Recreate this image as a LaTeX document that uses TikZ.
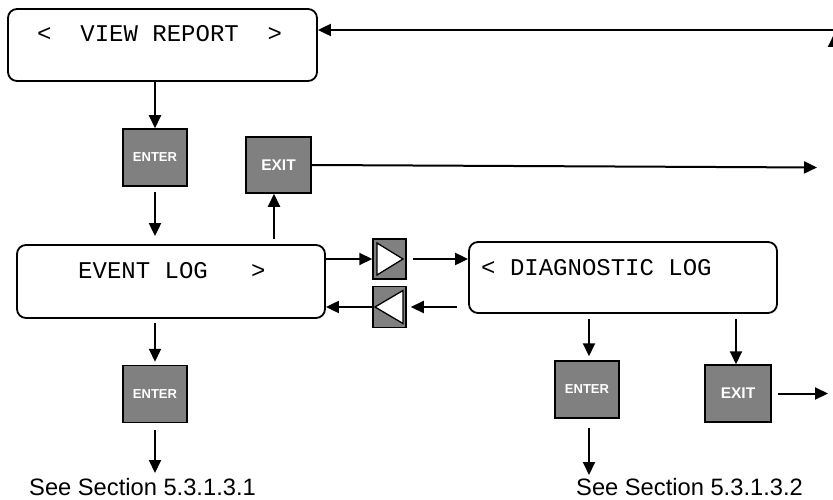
\documentclass[tikz,border=0pt]{standalone}
\usepackage{fontspec}
\setmainfont{Liberation Sans}
\newfontfamily\lcdfont{Liberation Mono}
\usetikzlibrary{arrows.meta,calc}
\definecolor{keygray}{RGB}{128,128,128}
\begin{document}
\begin{tikzpicture}[x=1pt,y=-1pt,
  lcd/.style={draw,line width=1.8pt,rounded corners=9pt,inner sep=0pt,fill=white},
  lcdtext/.style={inner sep=0pt,anchor=base west,font=\lcdfont\fontsize{24}{28}\selectfont},
  keybox/.style={draw,line width=1.5pt,fill=keygray,inner sep=0pt,text=white},
  enterkey/.style={keybox,minimum width=64pt,minimum height=57pt,font=\bfseries\fontsize{13}{15}\selectfont},
  exitkey/.style={keybox,minimum width=65pt,minimum height=56pt,font=\bfseries\fontsize{15.5}{17}\selectfont},
  navkey/.style={keybox,minimum width=33pt,minimum height=40pt},
  tri/.style={draw,line width=1.3pt,fill=white},
  seetext/.style={inner sep=0pt,anchor=base west,font=\fontsize{23.7}{28}\selectfont},
  arr/.style={line width=2pt,-{Triangle[length=13pt,width=12pt]}}
]
\useasboundingbox (0,0) rectangle (833,500);

% displays
\node[lcd,minimum width=309pt,minimum height=72pt] (vr) at (162.5,45) {};
\node[lcdtext] (vrt) at (37,42) {<~~VIEW REPORT~~>};
\node[lcd,minimum width=308pt,minimum height=73pt] (ev) at (171,281.5) {};
\node[lcdtext] (evt) at (78,278) {EVENT LOG~~~>};
\node[lcd,minimum width=308pt,minimum height=71pt] (dg) at (623,277.5) {};
\node[lcdtext] (dgt) at (481,275) {<~DIAGNOSTIC LOG};

% keys
\node[enterkey] (enter1) at (155,157.5) {ENTER};
\node[exitkey] (exit1) at (278.5,165) {EXIT};
\node[enterkey] (enter3) at (155,394) {ENTER};
\node[enterkey] (enter2) at (587,389.5) {ENTER};
\node[exitkey,minimum width=66pt,minimum height=57pt] (exit2) at (738,393.5) {EXIT};
\node[navkey] (rbtn) at (389.5,259) {};
\node[navkey,minimum height=41pt] (lbtn) at (389.5,307) {};
\draw[tri] (377,243) -- (377,275) -- (403,259) -- cycle;
\draw[tri] (403,290.5) -- (403,323.5) -- (375,307) -- cycle;

% texts
\node[seetext] (see1) at (29,495) {See Section 5.3.1.3.1};
\node[seetext] (see2) at (576,495) {See Section 5.3.1.3.2};

% free ends
\coordinate (topin) at (836,30);
\coordinate (exit1out) at (817,167.5);
\coordinate (exit2out) at (828,393.5);
\coordinate (upend) at (834,34);

% connectors
\draw[arr] (topin) -- (topin -| vr.east);
\draw[arr] (834,48) -- (upend);
\draw[arr] (vr.south -| enter1) -- (enter1.north);
\draw[arr,shorten <=5pt,shorten >=8pt] (enter1.south) -- (ev.north -| enter1);
\draw[arr,shorten <=5pt] ([xshift=-4.5pt]ev.north -| exit1) -- ([xshift=-4.5pt]exit1.south);
\draw[arr] (exit1.east) -- (exit1out);
\draw[arr] (ev.east |- rbtn) -- (rbtn.west);
\draw[arr,shorten <=6pt] (rbtn.east) -- (dg.west |- rbtn);
\draw[arr,shorten <=11pt,shorten >=4pt] (dg.west |- lbtn) -- (lbtn.east);
\draw[arr] (lbtn.west) -- (ev.east |- lbtn);
\draw[arr,shorten <=5pt,shorten >=4pt] ([xshift=2pt]dg.south -| enter2) -- ([xshift=2pt]enter2.north);
\draw[arr,shorten <=5pt] ([xshift=-2pt]dg.south -| exit2) -- ([xshift=-2pt]exit2.north);
\draw[arr,shorten <=6pt] (exit2.east) -- (exit2out);
\draw[arr,shorten <=4pt,shorten >=3pt] (ev.south -| enter3) -- (enter3.north);
\draw[arr,shorten <=7pt] (enter3.south) -- (enter3.south |- 0,473);
\draw[arr,shorten <=9pt] ([xshift=2pt]enter2.south) -- ([xshift=2pt]enter2.south |- 0,475);
\end{tikzpicture}
\end{document}
